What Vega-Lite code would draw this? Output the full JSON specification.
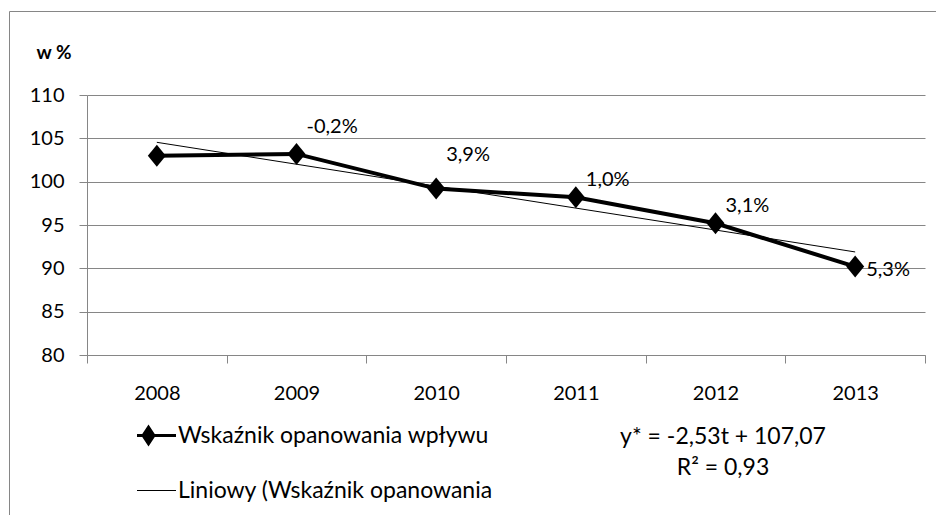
{
  "$schema": "https://vega.github.io/schema/vega-lite/v6.json",
  "width": 927,
  "height": 504,
  "autosize": {"type": "none"},
  "padding": {"left": 9, "top": 11, "right": 0, "bottom": 0},
  "background": "white",
  "config": {
    "font": "Lato",
    "view": {"stroke": "#868686", "strokeWidth": 1},
    "axis": {"domainColor": "#868686", "tickColor": "#868686", "gridColor": "#868686", "labelColor": "black", "labelFont": "Lato", "labelFontSize": 20, "tickSize": 8},
    "axisX": {"labelPadding": 20},
    "axisY": {"labelPadding": 15},
    "legend": {"symbolSize": 3025, "symbolType": "stroke", "padding": 0}
  },
  "title": {
    "text": ["y* = -2,53t + 107,07", "R² = 0,93"],
    "orient": "top",
    "anchor": "start",
    "frame": "group",
    "align": "center",
    "baseline": "top",
    "offset": 0,
    "dx": 714,
    "dy": 469,
    "font": "Lato",
    "fontSize": 23,
    "fontWeight": "normal",
    "lineHeight": 31,
    "color": "black"
  },
  "data": {
    "values": [
      {"year": "2008", "value": 103.0, "trend": 104.54, "label": ""},
      {"year": "2009", "value": 103.2, "trend": 102.01, "label": "-0,2%"},
      {"year": "2010", "value": 99.2, "trend": 99.48, "label": "3,9%"},
      {"year": "2011", "value": 98.2, "trend": 96.95, "label": "1,0%"},
      {"year": "2012", "value": 95.2, "trend": 94.42, "label": "3,1%"},
      {"year": "2013", "value": 90.2, "trend": 91.89, "label": "5,3%"}
    ]
  },
  "encoding": {
    "x": {
      "field": "year",
      "type": "ordinal",
      "scale": {"range": [78, 916], "paddingInner": 0, "paddingOuter": 0},
      "axis": {"title": null, "labelAngle": 0, "offset": -160, "grid": false, "tickBand": "extent", "domainColor": "#868686"}
    }
  },
  "layer": [
    {
      "mark": {"type": "line", "strokeWidth": 4, "color": "black"},
      "encoding": {
        "y": {
          "field": "value",
          "type": "quantitative",
          "scale": {"domain": [80, 110], "range": [344, 84], "nice": false, "zero": false},
          "axis": {
            "values": [80, 85, 90, 95, 100, 105, 110],
            "offset": -78,
            "grid": true,
            "title": "w %",
            "titleAngle": 0,
            "titleAlign": "left",
            "titleBaseline": "middle",
            "titleX": -51,
            "titleY": 41,
            "titleFont": "Lato",
            "titleFontSize": 19,
            "titleFontWeight": "bold",
            "titleColor": "black"
          }
        },
        "color": {
          "datum": "Wskaźnik opanowania wpływu",
          "scale": {"domain": ["Wskaźnik opanowania wpływu", "Liniowy (Wskaźnik opanowania"], "range": ["black", "black"]},
          "legend": {
            "title": null,
            "orient": "none",
            "legendX": 128,
            "legendY": 397,
            "labelFont": "Lato",
            "labelFontSize": 23,
            "labelColor": "black",
            "labelOffset": 18,
            "labelLimit": 0,
            "rowPadding": 0,
            "clipHeight": 55,
            "encode": {
              "symbols": {
                "update": {
                  "shape": {"signal": "datum.value === 'Wskaźnik opanowania wpływu' ? 'M-1,0L-0.2,0L0,-0.3L0.2,0L1,0L0.2,0L0,0.3L-0.2,0Z' : 'stroke'"},
                  "strokeWidth": {"signal": "datum.value === 'Wskaźnik opanowania wpływu' ? 3 : 1"},
                  "fill": {"signal": "datum.value === 'Wskaźnik opanowania wpływu' ? 'black' : 'transparent'"},
                  "stroke": {"signal": "datum.value === 'Wskaźnik opanowania wpływu' ? 'black' : '#555555'"}
                }
              }
            }
          }
        }
      }
    },
    {
      "mark": {"type": "point", "shape": "M0,-1.1L0.9,0L0,1.1L-0.9,0Z", "size": 400, "filled": true, "color": "black", "opacity": 1},
      "encoding": {"y": {"field": "value", "type": "quantitative"}}
    },
    {
      "mark": {"type": "line", "strokeWidth": 1, "color": "black"},
      "encoding": {"y": {"field": "trend", "type": "quantitative"}}
    },
    {
      "transform": [{"filter": "datum.year == '2009'"}],
      "mark": {"type": "text", "align": "left", "baseline": "middle", "dx": 10, "dy": -27, "font": "Lato", "fontSize": 20, "color": "black"},
      "encoding": {"y": {"field": "value", "type": "quantitative"}, "text": {"field": "label"}}
    },
    {
      "transform": [{"filter": "datum.year == '2010'"}],
      "mark": {"type": "text", "align": "left", "baseline": "middle", "dx": 10, "dy": -34, "font": "Lato", "fontSize": 20, "color": "black"},
      "encoding": {"y": {"field": "value", "type": "quantitative"}, "text": {"field": "label"}}
    },
    {
      "transform": [{"filter": "datum.year == '2011' || datum.year == '2012'"}],
      "mark": {"type": "text", "align": "left", "baseline": "middle", "dx": 10, "dy": -17, "font": "Lato", "fontSize": 20, "color": "black"},
      "encoding": {"y": {"field": "value", "type": "quantitative"}, "text": {"field": "label"}}
    },
    {
      "transform": [{"filter": "datum.year == '2013'"}],
      "mark": {"type": "text", "align": "left", "baseline": "middle", "dx": 11, "dy": 3, "font": "Lato", "fontSize": 20, "color": "black"},
      "encoding": {"y": {"field": "value", "type": "quantitative"}, "text": {"field": "label"}}
    }
  ]
}
